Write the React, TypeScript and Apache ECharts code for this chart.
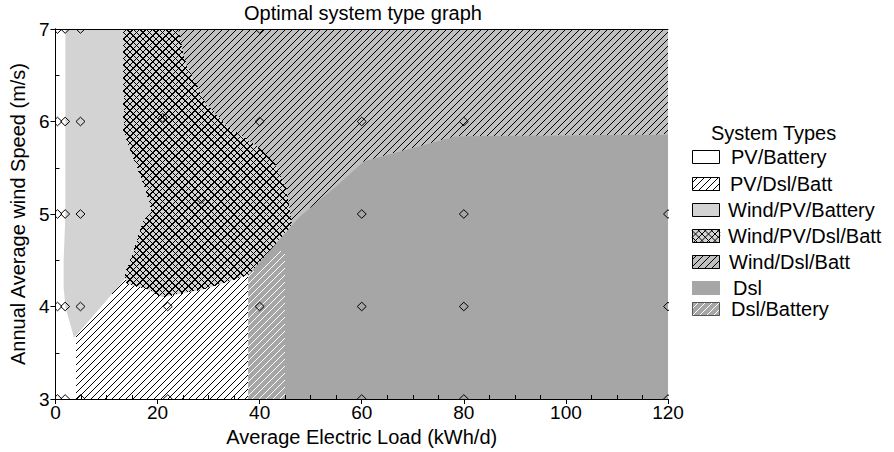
import { useEffect, useRef } from 'react';
import * as echarts from 'echarts';

// ---------- texts ----------
const chartTitle = 'Optimal system type graph';
const xAxisName = 'Average Electric Load (kWh/d)';
const yAxisName = 'Annual Average wind Speed (m/s)';
const legendTitle = 'System Types';
const systemTypes = ['PV/Battery', 'PV/Dsl/Batt', 'Wind/PV/Battery', 'Wind/PV/Dsl/Batt', 'Wind/Dsl/Batt', 'Dsl', 'Dsl/Battery'];

// ---------- axes ----------
const xMin = 0, xMax = 120, xStep = 20;
const yMin = 3, yMax = 7, yStep = 1;

// ---------- region boundaries [load kWh/d, wind speed m/s] ----------
const pvBatteryRegion = [[0, 3], [120, 3], [120, 7], [0, 7]];
const windPvBatteryRegion = [
  [1.95, 7], [120, 7], [120, 3], [37.8, 3], [37.8, 4.34], [29.4, 4.3], [21.7, 4.18], [13.3, 4.25],
  [10.4, 4.09], [3.6, 3.66], [3.3, 3.73], [2.0, 3.98], [1.6, 4.2], [1.6, 4.5], [1.95, 5.0],
];
const windDslBattRegion = [
  [24, 7], [120, 7], [120, 5.86], [78.4, 5.84], [60.4, 5.57], [55.0, 5.3], [47.8, 4.97],
  [37.8, 4.34], [33, 4.5], [23, 6.0],
];
const pvDslBattRegion = [[3.93, 3], [3.93, 3.67], [10.4, 4.09], [13.6, 4.3], [37.8, 4.34], [37.8, 3]];
const windPvDslBattRegion = [
  [13.3, 7], [24.0, 7], [25.5, 6.63], [29.4, 6.2], [33.7, 5.95], [39.1, 5.75], [43.0, 5.54],
  [45.3, 5.27], [46.4, 4.84], [37.8, 4.34], [29.4, 4.19], [21.0, 4.1], [17.8, 4.19], [13.9, 4.25],
  [13.6, 4.35], [15.2, 4.59], [17.0, 4.9], [18.8, 5.05], [17.4, 5.3], [13.35, 5.88],
];
const dslRegion = [
  [37.8, 3], [37.8, 4.34], [47.8, 4.97], [55.0, 5.3], [60.4, 5.57], [78.4, 5.84], [120, 5.86], [120, 3],
];
const dslBatteryRegion = [[37.8, 3], [37.8, 4.34], [44.9, 4.63], [44.9, 3]];

// ---------- sensitivity cases (diamonds) ----------
const caseLoads = [
  0.4, 1.9, 4.9, 40,
  0.4, 1.9, 4.9, 21, 40, 60, 80,
  0.4, 1.9, 4.9, 28.5, 60, 80, 120,
  0.4, 1.9, 4.9, 22, 40, 60, 80, 120,
  0.4, 1.9, 4.9, 22, 60, 80, 120,
];
const caseWinds = [
  7, 7, 7, 7,
  6, 6, 6, 6.04, 6, 6, 6,
  5, 5, 5, 5.16, 5, 5, 5,
  4, 4, 4, 4, 4, 4, 4, 4,
  3, 3, 3, 3, 3, 3, 3,
];

// ---------- styles ----------
const FONT = 'Liberation Sans';
const HATCH_W = 1.001; // marker width so the hatch lines (only) get crisp rendering
type Hatch = { sgn: number; color: string; step: number };
type Look = { fill: string; border: string | null; lines: Hatch[] };
const looks: Record<string, Look> = {
  'PV/Battery': { fill: '#ffffff', border: '#000', lines: [] },
  'PV/Dsl/Batt': { fill: '#ffffff', border: '#000', lines: [{ sgn: 1, color: '#000', step: 7 }] },
  'Wind/PV/Battery': { fill: '#d3d3d3', border: '#000', lines: [] },
  'Wind/PV/Dsl/Batt': {
    fill: '#d3d3d3', border: '#000',
    lines: [{ sgn: 1, color: '#000', step: 6.5 }, { sgn: -1, color: '#000', step: 6.5 }],
  },
  'Wind/Dsl/Batt': { fill: '#c0c0c0', border: '#000', lines: [{ sgn: 1, color: '#000', step: 7 }] },
  'Dsl': { fill: '#a6a6a6', border: null, lines: [] },
  'Dsl/Battery': { fill: '#a6a6a6', border: '#555', lines: [{ sgn: 1, color: '#fff', step: 7 }] },
};
const regionOrder: [string, number[][]][] = [
  ['PV/Battery', pvBatteryRegion],
  ['Wind/PV/Battery', windPvBatteryRegion],
  ['Wind/Dsl/Batt', windDslBattRegion],
  ['PV/Dsl/Batt', pvDslBattRegion],
  ['Wind/PV/Dsl/Batt', windPvDslBattRegion],
  ['Dsl', dslRegion],
  ['Dsl/Battery', dslBatteryRegion],
];

// hatch lines clipped to a polygon in pixel space: family x + sgn*y = c
function hatchSegments(pts: number[][], step: number, sgn: number) {
  const vals = pts.map((p) => p[0] + sgn * p[1]);
  const lo = Math.min(...vals), hi = Math.max(...vals);
  const segs: number[][][] = [];
  for (let c = Math.ceil(lo / step) * step; c <= hi; c += step) {
    const xs: number[][] = [];
    for (let i = 0; i < pts.length; i++) {
      const j = (i + 1) % pts.length;
      const fa = vals[i] - c, fb = vals[j] - c;
      if ((fa < 0) !== (fb < 0)) {
        const t = fa / (fa - fb);
        xs.push([pts[i][0] + t * (pts[j][0] - pts[i][0]), pts[i][1] + t * (pts[j][1] - pts[i][1])]);
      }
    }
    xs.sort((a, b) => a[0] - b[0]);
    for (let k = 0; k + 1 < xs.length; k += 2) segs.push([xs[k], xs[k + 1]]);
  }
  return segs;
}

function regionSeries(name: string, poly: number[][]) {
  const look = looks[name];
  return {
    type: 'custom',
    name,
    silent: true,
    data: [poly[0]],
    renderItem: (_params: any, api: any) => {
      const pts = poly.map((p) => api.coord(p));
      const children: any[] = [
        { type: 'polygon', shape: { points: pts }, style: { fill: look.fill, stroke: null } },
      ];
      look.lines.forEach((h) => {
        hatchSegments(pts, h.step, h.sgn).forEach((s) => {
          children.push({
            type: 'line',
            shape: { x1: s[0][0], y1: s[0][1], x2: s[1][0], y2: s[1][1] },
            style: { stroke: h.color, lineWidth: HATCH_W },
          });
        });
      });
      return { type: 'group', children };
    },
  };
}

// ---------- legend (graphic) ----------
const legendBoxX = 692, legendBoxW = 28, legendBoxH = 14;
const legendY = [157, 184, 210, 236, 262, 288, 309];
const legendTextX = [731, 730, 728, 728, 729, 733, 731];

function legendGraphics() {
  const els: any[] = [];
  els.push({
    type: 'text', x: 711, y: 133,
    style: { text: legendTitle, fontSize: 20, fontFamily: FONT, fill: '#000', verticalAlign: 'middle', align: 'left' },
  });
  systemTypes.forEach((name, i) => {
    const look = looks[name];
    const cy = legendY[i];
    const y0 = cy - legendBoxH / 2;
    els.push({ type: 'rect', shape: { x: legendBoxX, y: y0, width: legendBoxW, height: legendBoxH }, style: { fill: look.fill } });
    const box = [[legendBoxX, y0], [legendBoxX + legendBoxW, y0], [legendBoxX + legendBoxW, y0 + legendBoxH], [legendBoxX, y0 + legendBoxH]];
    look.lines.forEach((h) => {
      hatchSegments(box, h.step, h.sgn).forEach((s) => {
        els.push({ type: 'line', shape: { x1: s[0][0], y1: s[0][1], x2: s[1][0], y2: s[1][1] }, style: { stroke: h.color, lineWidth: 1 } });
      });
    });
    if (look.border) {
      els.push({ type: 'rect', shape: { x: legendBoxX + 0.5, y: y0 + 0.5, width: legendBoxW - 1, height: legendBoxH - 1 }, style: { fill: 'none', stroke: look.border, lineWidth: 1 } });
    }
    els.push({
      type: 'text', x: legendTextX[i], y: cy,
      style: { text: name, fontSize: 20, fontFamily: FONT, fill: '#000', verticalAlign: 'middle', align: 'left' },
    });
  });
  return els;
}

export default function App() {
  const ref = useRef<HTMLDivElement>(null);
  useEffect(() => {
    const chart = echarts.init(ref.current!, null, { renderer: 'svg' });
    const axisBase = {
      axisLine: { show: true, lineStyle: { color: '#000', width: 1 } },
      splitLine: { show: false },
      z: 10,
    };
    const option: any = {
      animation: false,
      textStyle: { fontFamily: FONT, color: '#000' },
      title: {
        text: chartTitle, left: 358, top: -2, textAlign: 'center',
        textStyle: { fontSize: 20, fontWeight: 'normal', color: '#000', fontFamily: FONT },
      },
      grid: { left: 48, top: 29, right: 226, bottom: 51 },
      xAxis: [
        {
          ...axisBase, type: 'value', min: xMin, max: xMax, interval: xStep, position: 'bottom',
          axisTick: { show: true, length: 5, lineStyle: { color: '#000' } },
          minorTick: { show: true, splitNumber: 4, length: -4, lineStyle: { color: '#000' } },
          axisLabel: { color: '#000', fontSize: 19, margin: 4, fontFamily: FONT },
          name: xAxisName, nameLocation: 'middle', nameGap: 28,
          nameTextStyle: { fontSize: 20, color: '#000', fontFamily: FONT },
        },
        {
          ...axisBase, type: 'value', min: xMin, max: xMax, interval: xStep, position: 'top',
          axisTick: { show: false }, axisLabel: { show: false },
        },
      ],
      yAxis: [
        {
          ...axisBase, type: 'value', min: yMin, max: yMax, interval: yStep, position: 'left',
          axisTick: { show: true, length: 5, lineStyle: { color: '#000' } },
          minorTick: { show: true, splitNumber: 2, length: -4, lineStyle: { color: '#000' } },
          axisLabel: { color: '#000', fontSize: 19, margin: 6, fontFamily: FONT },
          name: yAxisName, nameLocation: 'middle', nameGap: 21,
          nameTextStyle: { fontSize: 20, color: '#000', fontFamily: FONT },
        },
        {
          ...axisBase, type: 'value', min: yMin, max: yMax, interval: yStep, position: 'right',
          axisTick: { show: false }, axisLabel: { show: false },
        },
      ],
      series: [
        ...regionOrder.map(([name, poly]) => regionSeries(name, poly)),
        {
          type: 'custom',
          name: 'cases',
          silent: true,
          clip: true,
          data: caseLoads.map((x, i) => [x, caseWinds[i]]),
          renderItem: (_p: any, api: any) => {
            const [cx, cy] = api.coord([api.value(0), api.value(1)]);
            return {
              type: 'polygon',
              shape: { points: [[cx, cy - 4.3], [cx + 4.5, cy], [cx, cy + 4.3], [cx - 4.5, cy]] },
              style: { fill: 'none', stroke: '#000', lineWidth: 1 },
            };
          },
        },
      ],
      graphic: legendGraphics(),
    };
    chart.setOption(option);
    return () => chart.dispose();
  }, []);
  return (
    <>
      <style>{`.hatch-chart svg path[stroke-width^="1.00"] { shape-rendering: crispEdges; }`}</style>
      <div className="hatch-chart" ref={ref} style={{ position: 'absolute', left: 0, top: 0, width: 894, height: 452 }} />
    </>
  );
}
